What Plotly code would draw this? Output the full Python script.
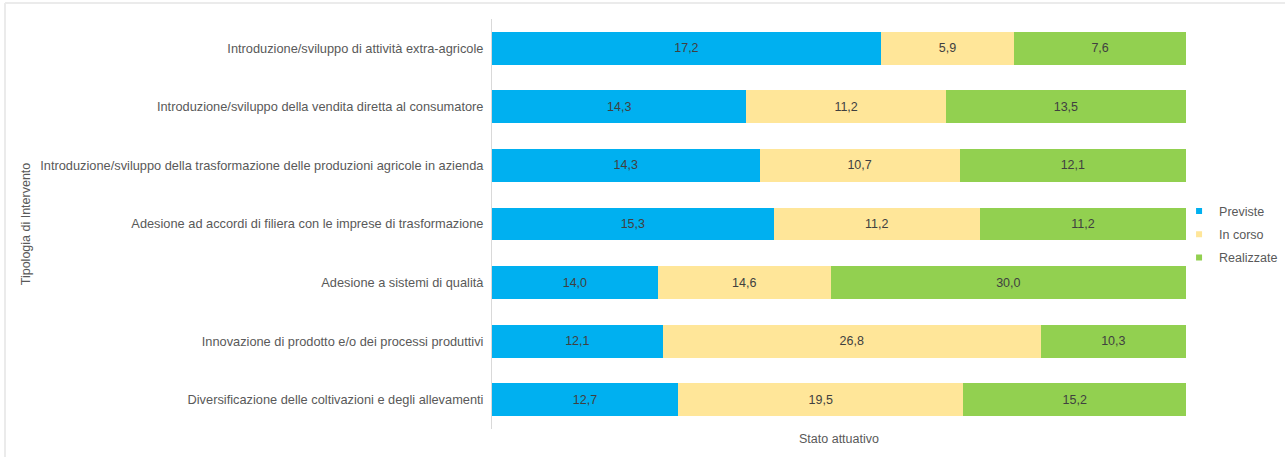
import plotly.graph_objects as go

categories = [
    "Introduzione/sviluppo di attività extra-agricole",
    "Introduzione/sviluppo della vendita diretta al consumatore",
    "Introduzione/sviluppo della trasformazione delle produzioni agricole in azienda",
    "Adesione ad accordi di filiera con le imprese di trasformazione",
    "Adesione a sistemi di qualità",
    "Innovazione di prodotto e/o dei processi produttivi",
    "Diversificazione delle coltivazioni e degli allevamenti",
]
previste = [17.2, 14.3, 14.3, 15.3, 14.0, 12.1, 12.7]
in_corso = [5.9, 11.2, 10.7, 11.2, 14.6, 26.8, 19.5]
realizzate = [7.6, 13.5, 12.1, 11.2, 30.0, 10.3, 15.2]

series = [
    ("Previste", previste, "#00B0F0"),
    ("In corso", in_corso, "#FFE699"),
    ("Realizzate", realizzate, "#92D050"),
]

FONT = "Liberation Sans, Arial, sans-serif"
NARROW = "Liberation Sans Narrow, Arial Narrow, Liberation Sans, sans-serif"


def fmt(v):
    return f"{v:.1f}".replace(".", ",")


fig = go.Figure()
for i, (name, vals, color) in enumerate(series):
    fig.add_trace(go.Bar(
        y=categories, x=vals, orientation="h", name=name,
        marker=dict(color=color, line=dict(width=0)),
        text=[fmt(v) for v in vals], textposition="inside",
        insidetextanchor="middle",
        textfont=dict(family=NARROW, size=12.5, color="#404040"),
        width=0.56, showlegend=False, legendgroup=f"g{i}",
        hoverinfo="skip",
    ))
    # small square legend marker
    fig.add_trace(go.Scatter(
        x=[None], y=[None], mode="markers", name=name,
        marker=dict(symbol="square", size=6, color=color),
        legendgroup=f"g{i}", showlegend=True,
    ))

frame = dict(color="#EBEBEB", width=2)

fig.update_layout(
    barmode="stack", barnorm="percent",
    width=1285, height=457,
    margin=dict(l=492, r=99, t=19, b=28, autoexpand=False),
    paper_bgcolor="white", plot_bgcolor="white",
    font=dict(family=FONT, size=12.8, color="#595959"),
    legend=dict(
        x=0.99, y=0.475, xanchor="left", yanchor="middle",
        font=dict(family=FONT, size=12.5, color="#595959"),
        traceorder="grouped", tracegroupgap=4,
        itemwidth=30, bgcolor="rgba(0,0,0,0)",
    ),
    xaxis=dict(
        range=[0, 100], showgrid=False, zeroline=False, showticklabels=False,
        showline=False, fixedrange=True,
        title=dict(text="Stato attuativo", standoff=5,
                   font=dict(family=NARROW, size=12.5, color="#595959")),
    ),
    yaxis=dict(
        categoryorder="array", categoryarray=categories[::-1],
        range=[-0.5, 6.5], showgrid=False, zeroline=False,
        showline=True, linecolor="#D9D9D9", linewidth=1,
        ticks="", ticklabelstandoff=5,
        tickfont=dict(family=FONT, size=12.8, color="#595959"),
        title=dict(text="Tipologia di Intervento", standoff=6,
                   font=dict(family=FONT, size=12.5, color="#595959")),
    ),
    shapes=[
        # top edge of the frame
        dict(type="line", xref="paper", yref="paper",
             x0=-0.7017, x1=1.2, y0=1.039, y1=1.039, line=frame, layer="below"),
        # left edge of the frame
        dict(type="line", xref="paper", yref="paper",
             x0=-0.7017, x1=-0.7017, y0=1.039, y1=-0.1, line=frame, layer="below"),
    ],
)

fig.write_html("out.html")
